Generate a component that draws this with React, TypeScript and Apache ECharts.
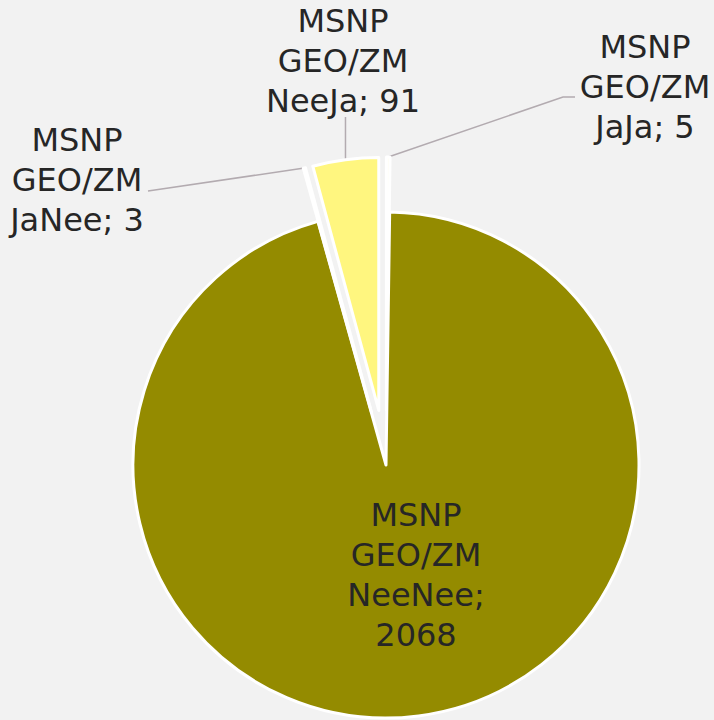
import React, { useEffect, useRef } from 'react';
import * as echarts from 'echarts';

const seriesLines = ['MSNP', 'GEO/ZM'];
const categories = ['JaJa', 'NeeNee', 'JaNee', 'NeeJa'];
const values = [5, 2068, 3, 91];
const colors = ['#FFFDF0', '#948B00', '#FFFDF0', '#FFF67F'];
const exploded = [true, false, true, true];

const CX = 386;
const CY = 465;
const R = 253;
const OFFSET = 55;
const FONT = "'DejaVu Sans', Verdana, sans-serif";

function midAngle(i: number): number {
  const total = values.reduce((a, b) => a + b, 0);
  let acc = 0;
  for (let j = 0; j < i; j++) acc += values[j];
  return ((acc + values[i] / 2) / total) * Math.PI * 2;
}

function shift(i: number): number[] {
  const off = exploded[i] ? OFFSET : 0;
  const m = midAngle(i);
  return [off * Math.sin(m), -off * Math.cos(m)];
}

function edgePoint(i: number): number[] {
  const m = midAngle(i);
  const s = shift(i);
  return [CX + s[0] + R * Math.sin(m), CY + s[1] - R * Math.cos(m)];
}

function labelText(i: number): string {
  return i === 1
    ? `${seriesLines.join('\n')}\n${categories[i]};\n${values[i]}`
    : `${seriesLines.join('\n')}\n${categories[i]}; ${values[i]}`;
}

export default function App() {
  const ref = useRef<HTMLDivElement>(null);
  useEffect(() => {
    document.body.style.margin = '0';
    document.body.style.background = '#F2F2F2';
    const chart = echarts.init(ref.current!, null, { renderer: 'svg' });
    const labelStyle = {
      fontFamily: FONT,
      fontSize: 32,
      lineHeight: 40,
      color: '#262626',
      align: 'center' as const,
    };
    const hidden = {
      itemStyle: { color: 'rgba(0,0,0,0)', borderWidth: 0 },
      label: { show: false },
      labelLine: { show: false },
    };
    const series = categories.map((_, k) => {
      const s = shift(k);
      return {
        type: 'pie',
        center: [CX + s[0], CY + s[1]],
        radius: R,
        startAngle: 90,
        clockwise: true,
        avoidLabelOverlap: false,
        silent: true,
        emphasis: { disabled: true },
        itemStyle: { borderColor: '#FFFFFF', borderWidth: 3 },
        label: {
          show: true,
          position: k === 1 ? 'inside' : 'outside',
          ...labelStyle,
          formatter: (p: any) => labelText(p.dataIndex),
        },
        labelLine: {
          show: k !== 1,
          length: 10,
          length2: 10,
          lineStyle: { color: '#B3ABB0', width: 1.5 },
        },
        data: categories.map((c, i) =>
          i === k
            ? { name: c, value: values[i], itemStyle: { color: colors[i] } }
            : { name: c, value: values[i], ...hidden }
        ),
        labelLayout: (params: any) => {
          const i = params.dataIndex;
          if (i !== k) return {};
          const e = edgePoint(i);
          if (i === 0) {
            return { x: 645, y: 87, align: 'center', verticalAlign: 'middle', labelLinePoints: [e, [563, 97], [575, 97]] };
          }
          if (i === 1) {
            return { x: 416, y: 575, align: 'center', verticalAlign: 'middle' };
          }
          if (i === 2) {
            return { x: 77, y: 180, align: 'center', verticalAlign: 'middle', labelLinePoints: [e, [148, 191], [148, 191]] };
          }
          return { x: 343, y: 61, align: 'center', verticalAlign: 'middle', labelLinePoints: [e, [e[0], 117], [e[0], 117]] };
        },
      };
    });
    chart.setOption({
      animation: false,
      backgroundColor: '#F2F2F2',
      series,
    });
    return () => chart.dispose();
  }, []);
  return <div ref={ref} style={{ width: 714, height: 720 }} />;
}
